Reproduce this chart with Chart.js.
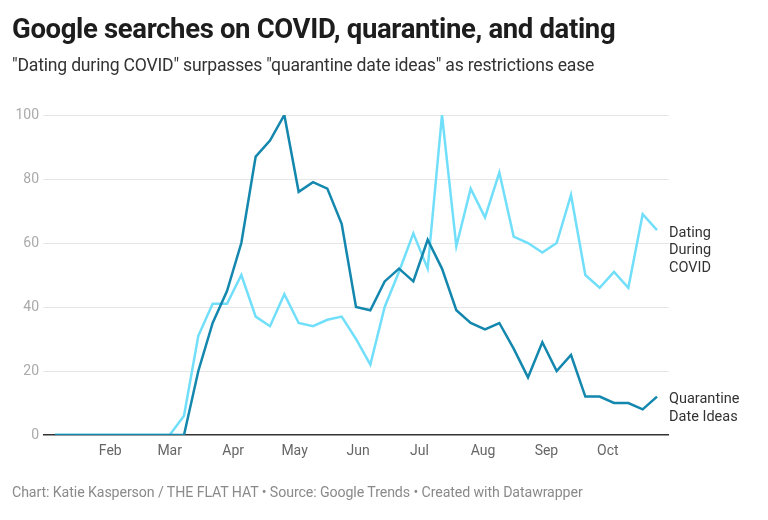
<!DOCTYPE html>
<html>
<head>
<meta charset="utf-8">
<script src="https://cdn.jsdelivr.net/npm/chart.js@4.4.0/dist/chart.umd.min.js"></script>
<style>
  html, body { margin: 0; padding: 0; background: #fff; }
  body { width: 768px; height: 520px; position: relative; overflow: hidden; font-family: Roboto, "Noto Sans", sans-serif; }
  #title { position: absolute; left: 12px; top: 12px; font-size: 27.5px; font-weight: 700; color: #1d1d1d; white-space: nowrap; letter-spacing: -0.35px; }
  #subtitle { position: absolute; left: 12px; top: 55px; font-size: 17.6px; color: #333; white-space: nowrap; letter-spacing: -0.2px; }
  #footer { position: absolute; left: 12px; top: 484px; font-size: 14.2px; color: #8a8a8a; white-space: nowrap; letter-spacing: -0.1px; }
  #wrap { position: absolute; left: 0; top: 0; width: 768px; height: 520px; }
</style>
</head>
<body>
<div id="wrap"><canvas id="c" width="768" height="520"></canvas></div>
<div id="title">Google searches on COVID, quarantine, and dating</div>
<div id="subtitle">"Dating during COVID" surpasses "quarantine date ideas" as restrictions ease</div>
<div id="footer">Chart: Katie Kasperson / THE FLAT HAT • Source: Google Trends • Created with Datawrapper</div>
<script>
const weeks = ['2020-01-05','2020-01-12','2020-01-19','2020-01-26','2020-02-02','2020-02-09','2020-02-16','2020-02-23',
  '2020-03-01','2020-03-08','2020-03-15','2020-03-22','2020-03-29','2020-04-05','2020-04-12','2020-04-19','2020-04-26',
  '2020-05-03','2020-05-10','2020-05-17','2020-05-24','2020-05-31','2020-06-07','2020-06-14','2020-06-21','2020-06-28',
  '2020-07-05','2020-07-12','2020-07-19','2020-07-26','2020-08-02','2020-08-09','2020-08-16','2020-08-23','2020-08-30',
  '2020-09-06','2020-09-13','2020-09-20','2020-09-27','2020-10-04','2020-10-11','2020-10-18','2020-10-25'];
const quarantineDateIdeas = [0,0,0,0,0,0,0,0,0,0,20,35,45,60,87,92,100,76,79,77,66,40,39,48,52,48,61,52,39,35,33,35,27,18,29,20,25,12,12,10,10,8,12];
const datingDuringCovid = [0,0,0,0,0,0,0,0,0,6,31,41,41,50,37,34,44,35,34,36,37,30,22,40,51,63,52,100,59,77,68,82,62,60,57,60,75,50,46,51,46,69,64];
const monthTickDates = ['2020-02-01','2020-03-01','2020-04-01','2020-05-01','2020-06-01','2020-07-01','2020-08-01','2020-09-01','2020-10-01'];
const monthTickLabels = ['Feb','Mar','Apr','May','Jun','Jul','Aug','Sep','Oct'];
const yTicks = [0,20,40,60,80,100];
const seriesLabels = [['Dating','During','COVID'], ['Quarantine','Date Ideas']];

const DAY = 86400000;
const origin = Date.parse(weeks[0]);
const toDay = d => (Date.parse(d) - origin) / DAY;
const monthTickDays = monthTickDates.map(toDay);
const lastDay = toDay(weeks[weeks.length - 1]);
const padDays = 5.86;

const darkColor = '#1387ad';
const lightColor = '#72dffa';

const endLabels = {
  id: 'endLabels',
  afterDatasetsDraw(chart) {
    const ctx = chart.ctx;
    const area = chart.chartArea;
    ctx.save();
    ctx.font = '14.5px Roboto, sans-serif';
    ctx.fillStyle = '#333';
    ctx.textAlign = 'left';
    ctx.textBaseline = 'middle';
    chart.data.datasets.forEach((ds, i) => {
      const meta = chart.getDatasetMeta(i);
      const pt = meta.data[meta.data.length - 1];
      const lines = ds.endLabel;
      lines.forEach((t, k) => ctx.fillText(t, area.right, pt.y + 3 + k * 17.5));
    });
    ctx.restore();
  }
};

new Chart(document.getElementById('c'), {
  type: 'line',
  data: {
    datasets: [
      {
        label: 'Quarantine Date Ideas',
        endLabel: seriesLabels[1],
        data: weeks.map((w, i) => ({ x: toDay(w), y: quarantineDateIdeas[i] })),
        borderColor: darkColor,
        borderWidth: 2.5,
        pointRadius: 0,
        tension: 0,
        order: 0
      },
      {
        label: 'Dating During COVID',
        endLabel: seriesLabels[0],
        data: weeks.map((w, i) => ({ x: toDay(w), y: datingDuringCovid[i] })),
        borderColor: lightColor,
        borderWidth: 2.5,
        pointRadius: 0,
        tension: 0,
        order: 1
      }
    ]
  },
  options: {
    responsive: false,
    animation: false,
    devicePixelRatio: 1,
    layout: { padding: { left: 0, right: 99, top: 115, bottom: 55 } },
    plugins: { legend: { display: false }, tooltip: { enabled: false } },
    scales: {
      x: {
        type: 'linear',
        min: -padDays,
        max: lastDay + padDays,
        afterBuildTicks: s => { s.ticks = monthTickDays.map(v => ({ value: v })); },
        afterFit: s => { s.height = 30; },
        grid: { display: false, drawTicks: false },
        border: { display: false },
        ticks: {
          autoSkip: false,
          maxRotation: 0,
          padding: 8,
          color: '#666',
          font: { family: 'Roboto', size: 14 },
          callback: (v) => { const k = monthTickDays.indexOf(v); return k >= 0 ? monthTickLabels[k] : ''; }
        }
      },
      y: {
        min: 0,
        max: 100,
        afterBuildTicks: s => { s.ticks = yTicks.map(v => ({ value: v })); },
        afterFit: s => { s.width = 43; },
        grid: {
          drawTicks: false,
          color: c => c.tick && c.tick.value === 0 ? '#333' : '#e6e6e6',
          lineWidth: c => c.tick && c.tick.value === 0 ? 1.5 : 1
        },
        border: { display: false },
        ticks: {
          padding: 4,
          color: '#aaa',
          font: { family: 'Roboto', size: 14 }
        }
      }
    }
  },
  plugins: [endLabels]
});
</script>
</body>
</html>
